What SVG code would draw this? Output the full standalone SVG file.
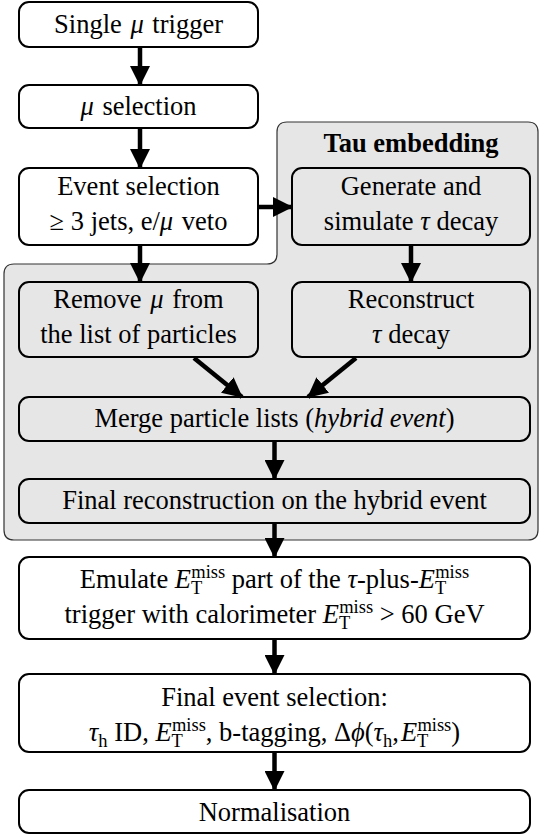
<svg xmlns="http://www.w3.org/2000/svg" width="540" height="836" viewBox="0 0 540 836">
<defs>
<style>
.box{fill:#ffffff;stroke:#000;stroke-width:2}
.gbox{fill:#e6e6e6;stroke:#000;stroke-width:2}
.region{fill:#e6e6e6;stroke:#333;stroke-width:1.2}
text{font-family:"Liberation Serif","Times New Roman",serif;font-size:26.5px;fill:#000;text-anchor:middle}
.it{font-style:italic}
.b{font-weight:bold}
.sub{font-size:18.5px}
.conn line{stroke:#000;stroke-width:4.5}
</style>
<marker id="ah" markerUnits="userSpaceOnUse" markerWidth="20" markerHeight="20" refX="19" refY="10" orient="auto" viewBox="0 0 20 20">
<path d="M0,0 L20,10 L0,20 Z" fill="#000"/>
</marker>
</defs>
<rect width="540" height="836" fill="#fff"/>

<g id="tau-embedding-region">
<path class="region" d="M287,122 H528 Q538,122 538,132 V530 Q538,540 528,540 H14 Q4,540 4,530 V274 Q4,264 14,264 H267 Q277,264 277,254 V132 Q277,122 287,122 Z"/>
<text class="b" x="411" y="152">Tau embedding</text>
</g>

<g id="n-single-mu-trigger">
<rect class="box" x="19" y="2" width="239" height="45" rx="10"/>
<text x="138.5" y="33">Single <tspan class="it" dx="2">μ</tspan><tspan dx="2"> trigger</tspan></text>
</g>

<g id="n-mu-selection">
<rect class="box" x="19" y="85" width="239" height="43" rx="10"/>
<text x="138.5" y="115"><tspan class="it">μ</tspan><tspan dx="2"> selection</tspan></text>
</g>

<g id="n-event-selection">
<rect class="box" x="19" y="168" width="239" height="77" rx="10"/>
<text x="138.5" y="195">Event selection</text>
<text x="138.5" y="230">≥ 3 jets, e/<tspan class="it">μ</tspan><tspan dx="2"> veto</tspan></text>
</g>

<g id="n-generate">
<rect class="gbox" x="292" y="168" width="238" height="77" rx="10"/>
<text x="411" y="195">Generate and</text>
<text x="411" y="230">simulate <tspan class="it">τ</tspan> decay</text>
</g>

<g id="n-remove-mu">
<rect class="gbox" x="19" y="282" width="239" height="75" rx="10"/>
<text x="138.5" y="308">Remove <tspan class="it" dx="2">μ</tspan><tspan dx="2"> from</tspan></text>
<text x="138.5" y="343">the list of particles</text>
</g>

<g id="n-reconstruct">
<rect class="gbox" x="292" y="282" width="238" height="75" rx="10"/>
<text x="411" y="308">Reconstruct</text>
<text x="411" y="343"><tspan class="it">τ</tspan> decay</text>
</g>

<g id="n-merge">
<rect class="gbox" x="19" y="397" width="511" height="44" rx="10"/>
<text x="274.5" y="427">Merge particle lists (<tspan class="it">hybrid event</tspan>)</text>
</g>

<g id="n-final-reco">
<rect class="gbox" x="19" y="479" width="511" height="44" rx="10"/>
<text x="274.5" y="509">Final reconstruction on the hybrid event</text>
</g>

<g id="n-emulate">
<rect class="box" x="19" y="557" width="511" height="82" rx="10"/>
<text x="274.5" y="588">Emulate <tspan class="it">E</tspan><tspan class="sub" dy="6">T</tspan><tspan class="sub" dx="-11" dy="-16">miss</tspan><tspan dy="10"> part of the </tspan><tspan class="it">τ</tspan>-plus-<tspan class="it">E</tspan><tspan class="sub" dy="6">T</tspan><tspan class="sub" dx="-11" dy="-16">miss</tspan></text>
<text x="274.5" y="623">trigger with calorimeter <tspan class="it">E</tspan><tspan class="sub" dy="6">T</tspan><tspan class="sub" dx="-11" dy="-16">miss</tspan><tspan dy="10"> &gt; 60 GeV</tspan></text>
</g>

<g id="n-final-selection">
<rect class="box" x="19" y="674" width="511" height="78" rx="10"/>
<text x="274.5" y="706">Final event selection:</text>
<text x="274.5" y="741"><tspan class="it">τ</tspan><tspan class="sub" dy="6">h</tspan><tspan dy="-6"> ID, </tspan><tspan class="it">E</tspan><tspan class="sub" dy="6">T</tspan><tspan class="sub" dx="-11" dy="-16">miss</tspan><tspan dy="10">, b-tagging, Δ</tspan><tspan class="it">ϕ</tspan>(<tspan class="it">τ</tspan><tspan class="sub" dy="6">h</tspan><tspan dy="-6">,</tspan><tspan class="it" dx="2">E</tspan><tspan class="sub" dy="6">T</tspan><tspan class="sub" dx="-11" dy="-16">miss</tspan><tspan dy="10">)</tspan></text>
</g>

<g id="n-normalisation">
<rect class="box" x="19" y="790" width="511" height="43" rx="10"/>
<text x="274.5" y="821">Normalisation</text>
</g>

<g id="connectors" class="conn">
<line x1="140" y1="47" x2="140" y2="85" marker-end="url(#ah)"/>
<line x1="140" y1="128" x2="140" y2="168" marker-end="url(#ah)"/>
<line x1="140" y1="245" x2="140" y2="282" marker-end="url(#ah)"/>
<line x1="258" y1="207" x2="292" y2="207" marker-end="url(#ah)"/>
<line x1="411" y1="245" x2="411" y2="282" marker-end="url(#ah)"/>
<line x1="194" y1="358" x2="242" y2="397" marker-end="url(#ah)"/>
<line x1="356" y1="358" x2="308" y2="397" marker-end="url(#ah)"/>
<line x1="274.5" y1="441" x2="274.5" y2="479" marker-end="url(#ah)"/>
<line x1="274.5" y1="523" x2="274.5" y2="557" marker-end="url(#ah)"/>
<line x1="274.5" y1="639" x2="274.5" y2="674" marker-end="url(#ah)"/>
<line x1="274.5" y1="752" x2="274.5" y2="790" marker-end="url(#ah)"/>
</g>
</svg>
